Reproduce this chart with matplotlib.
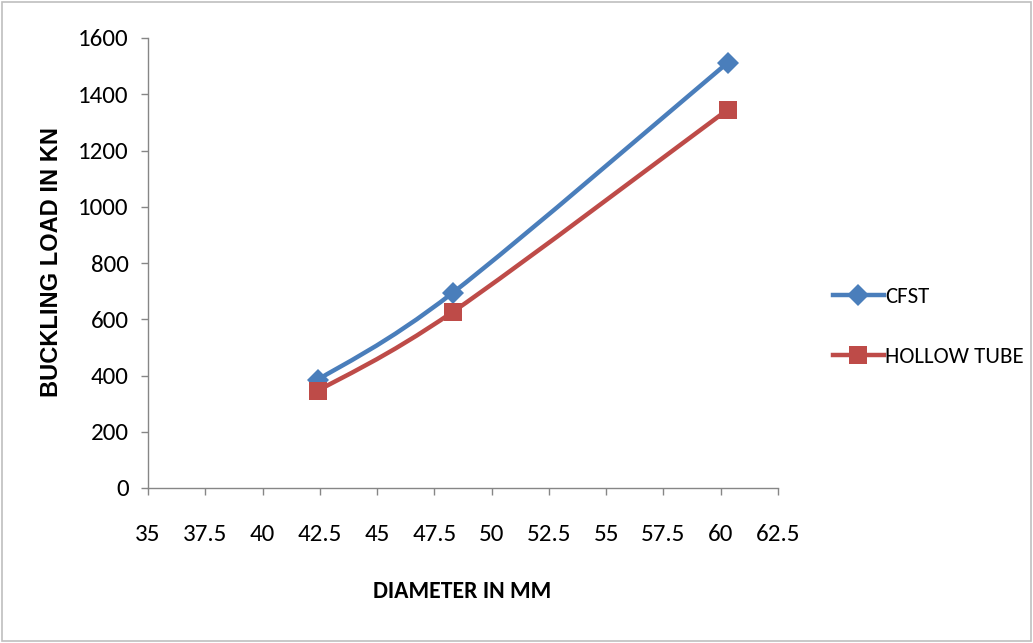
import matplotlib.pyplot as plt
import numpy as np
from matplotlib.path import Path
from matplotlib.patches import PathPatch, Rectangle

# pipe outer diameter (mm) and buckling load (kN)
diameter = [42.4, 48.3, 60.3]
cfst_load = [384, 694, 1512]
hollow_load = [345, 626, 1345]

x_ticks = [35, 37.5, 40, 42.5, 45, 47.5, 50, 52.5, 55, 57.5, 60, 62.5]
y_ticks = [0, 200, 400, 600, 800, 1000, 1200, 1400, 1600]

BLUE = "#4A7EBB"
RED = "#BE4B48"
FONT = ["Carlito", "DejaVu Sans"]
ARIAL = ["Liberation Sans", "DejaVu Sans"]


def smooth_path(xs, ys, tension=1 / 6):
    # cubic bezier through the points (catmull-rom style control points)
    pts = np.column_stack([xs, ys]).astype(float)
    verts = [pts[0]]
    codes = [Path.MOVETO]
    n = len(pts)
    for i in range(n - 1):
        p0 = pts[max(i - 1, 0)]
        p1 = pts[i]
        p2 = pts[i + 1]
        p3 = pts[min(i + 2, n - 1)]
        c1 = p1 + (p2 - p0) * tension
        c2 = p2 - (p3 - p1) * tension
        verts += [c1, c2, p2]
        codes += [Path.CURVE4] * 3
    return Path(verts, codes)


fig = plt.figure(figsize=(10.33, 6.43), dpi=100)
fig.patches.append(Rectangle((0.002, 0.003), 0.996, 0.994, transform=fig.transFigure,
                             fill=False, edgecolor="#BFBFBF", linewidth=1.2))
ax = fig.add_axes([148 / 1033, 1 - 488 / 643, 630 / 1033, 450 / 643])

for ys, color, marker, ms, label in [
    (cfst_load, BLUE, "D", 11, "CFST"),
    (hollow_load, RED, "s", 13, "HOLLOW TUBE"),
]:
    ax.add_patch(PathPatch(smooth_path(diameter, ys), fill=False, edgecolor=color,
                           linewidth=3.2, capstyle="round", joinstyle="round"))
    ax.plot(diameter, ys, linestyle="none", marker=marker, markersize=ms,
            color=color, markeredgewidth=0)
    # legend handle
    ax.plot([], [], color=color, linewidth=3.2, marker=marker, markersize=ms,
            markeredgewidth=0, label=label)

ax.set_xlim(35, 62.5)
ax.set_ylim(0, 1600)
ax.set_xticks(x_ticks)
ax.set_xticklabels([f"{v:g}" for v in x_ticks])
ax.set_yticks(y_ticks)

for side in ["top", "right"]:
    ax.spines[side].set_visible(False)
for side in ["left", "bottom"]:
    ax.spines[side].set_color("#868686")
    ax.spines[side].set_linewidth(1.0)

ax.tick_params(axis="both", direction="out", color="#868686", width=1.0, length=5,
               labelsize=18)
ax.tick_params(axis="x", pad=21)
ax.tick_params(axis="y", pad=9)
for lbl in ax.get_xticklabels() + ax.get_yticklabels():
    lbl.set_family(FONT)

ax.set_xlabel("DIAMETER IN MM", fontsize=17, fontweight="bold", family=FONT)
ax.xaxis.set_label_coords((462 - 148) / 630, (488 - 592) / 450)
ax.xaxis.label.set_verticalalignment("center")

ax.set_ylabel("BUCKLING LOAD IN KN", fontsize=17, fontweight="bold", family=ARIAL)
ax.yaxis.set_label_coords((52 - 148) / 630, (488 - 262) / 450)
ax.yaxis.label.set_verticalalignment("center")
ax.yaxis.label.set_horizontalalignment("center")

leg = ax.legend(loc="center left", bbox_to_anchor=(1.055, 0.357), frameon=False,
                prop={"family": FONT, "size": 16.5}, handlelength=2.2, handletextpad=0.05,
                labelspacing=1.75)

fig.savefig("out.png", dpi=100)
